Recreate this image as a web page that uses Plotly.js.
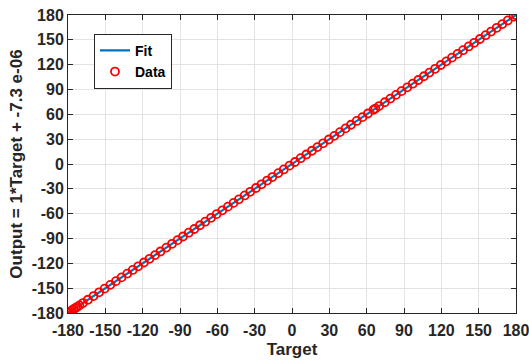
<!DOCTYPE html>
<html>
<head>
<meta charset="utf-8">
<script src="https://cdn.plot.ly/plotly-3.0.1.min.js"></script>
<style>html,body{margin:0;padding:0;background:#fff;}#chart{width:529px;height:363px;}</style>
</head>
<body>
<div id="chart"></div>
<script>
var tickVals = [-180,-150,-120,-90,-60,-30,0,30,60,90,120,150,180];
var tickText = ["-180","-150","-120","-90","-60","-30","0","30","60","90","120","150","180"];

var targets = [-180,-178.6,-177,-175.5,-174,-172.5,-170.8,-168,-164,-159.5,-155,-150.6,-146,-141.5,-137,-132.4,-128,-123.6,-119,-114.5,-110,-105.7,-101,-96.4,-92,-87.6,-83,-78.5,-74,-69.7,-65,-60.6,-56,-51.5,-47,-42.7,-38,-33.6,-29,-24.5,-20,-15.8,-11,-6.6,-2,2.4,7,11.5,16,20.4,25,29.6,34,38.5,43,47.4,52,56.6,61,65.5,67,70,74.6,79,83.5,88,92.6,97,101.5,106,110.4,115,119.6,124,128.5,133,137.5,142,146.4,151,155.6,160,164.5,169,173.4,178,180];
var outputs = [-180,-178.6,-177,-175.5,-174,-172.5,-170.8,-168,-164,-159.5,-155,-150.6,-146,-141.5,-137,-132.4,-128,-123.6,-119,-114.5,-110,-105.7,-101,-96.4,-92,-87.6,-83,-78.5,-74,-69.7,-65,-60.6,-56,-51.5,-47,-42.7,-38,-33.6,-29,-24.5,-20,-15.8,-11,-6.6,-2,2.4,7,11.5,16,20.4,25,29.6,34,38.5,43,47.4,52,56.6,61,65.5,67,70,74.6,79,83.5,88,92.6,97,101.5,106,110.4,115,119.6,124,128.5,133,137.5,142,146.4,151,155.6,160,164.5,169,173.4,178,180];
var fitX = [-180, 180];
var fitY = [-180, 180];

var fam = "Liberation Sans, Arial, sans-serif";
var tickFont = {family: fam, color: "#262626", size: 16, weight: "bold"};
var titleFont = {family: fam, color: "#262626", size: 17, weight: "bold"};

var traces = [
  {x: fitX, y: fitY, mode: "lines", name: "Fit", line: {color: "#0072BD", width: 2.2}},
  {x: targets, y: outputs, mode: "markers", name: "Data",
   marker: {symbol: "circle-open", size: 8, color: "#FF0000", line: {width: 1.8, color: "#FF0000"}}}
];

function axis(title, standoff) {
  return {
    range: [-180, 180], tickvals: tickVals, ticktext: tickText,
    ticks: "inside", ticklen: 5, tickwidth: 1, tickcolor: "#262626",
    showline: true, linecolor: "#262626", linewidth: 1, mirror: "ticks",
    showgrid: true, gridcolor: "#e3e3e3", gridwidth: 1, zeroline: false,
    ticklabelstandoff: standoff, ticklabeloverflow: "allow",
    tickfont: tickFont, title: {text: title, font: titleFont, standoff: 4}
  };
}

var layout = {
  width: 529, height: 363,
  margin: {l: 68, r: 13, t: 15, b: 50},
  paper_bgcolor: "#fff", plot_bgcolor: "#fff",
  xaxis: axis("Target", 3),
  yaxis: axis("Output = 1*Target + -7.3 e-06", 0),
  showlegend: true,
  legend: {x: 0.058, y: 0.937, xanchor: "left", yanchor: "top",
    bgcolor: "#fff", bordercolor: "#262626", borderwidth: 1,
    font: {family: fam, color: "#000", size: 14, weight: "bold"},
    tracegroupgap: 0}
};

Plotly.newPlot("chart", traces, layout, {displayModeBar: false, staticPlot: true});
</script>
</body>
</html>
